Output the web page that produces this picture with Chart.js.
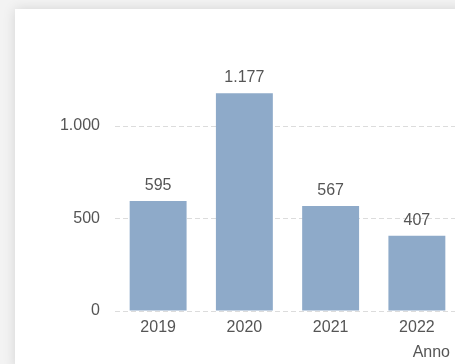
<!DOCTYPE html>
<html>
<head>
<meta charset="utf-8">
<script src="https://cdn.jsdelivr.net/npm/chart.js@4"></script>
<style>
  html, body { margin: 0; padding: 0; overflow: hidden; background: #f3f3f3; width: 455px; height: 364px; }
  #card { position: absolute; left: 15px; top: 9px; width: 450px; height: 360px; background: #fff;
          box-shadow: 0 0 12px rgba(0,0,0,0.13); }
</style>
</head>
<body>
<div id="card"><canvas id="chart" width="450" height="360"></canvas></div>
<script>
const years = ['2019', '2020', '2021', '2022'];
const counts = [595, 1177, 567, 407];
const yTicks = [0, 500, 1000];
const xTitle = 'Anno';

Chart.defaults.font.family = '"Liberation Sans", Arial, sans-serif';
Chart.defaults.font.size = 16;
Chart.defaults.color = '#555555';

const fmt = v => String(v).replace(/\B(?=(\d{3})+(?!\d))/g, '.');

// value labels above bars + axis title at the right
const barLabels = {
  id: 'barLabels',
  afterDatasetsDraw(chart) {
    const ctx = chart.ctx;
    ctx.save();
    ctx.font = '16px "Liberation Sans", Arial, sans-serif';
    ctx.fillStyle = '#555555';
    ctx.textAlign = 'center';
    ctx.textBaseline = 'alphabetic';
    chart.getDatasetMeta(0).data.forEach((bar, i) => {
      ctx.fillText(fmt(counts[i]), bar.x, bar.y - 11);
    });
    ctx.textAlign = 'right';
    ctx.fillText(xTitle, chart.scales.x.right - 10, chart.scales.x.bottom - 12);
    ctx.restore();
  }
};

new Chart(document.getElementById('chart'), {
  type: 'bar',
  data: {
    labels: years,
    datasets: [{
      data: counts,
      backgroundColor: '#8eaac9',
      categoryPercentage: 1,
      barPercentage: 0.66
    }]
  },
  options: {
    responsive: false,
    animation: false,
    layout: { padding: { top: 80, right: 5, left: 0, bottom: 0 } },
    plugins: { legend: { display: false }, tooltip: { enabled: false } },
    scales: {
      x: {
        grid: { display: false },
        border: { display: false },
        ticks: { padding: -1, maxRotation: 0 },
        afterFit: s => { s.height = 58; }
      },
      y: {
        min: 0,
        max: 1200,
        afterBuildTicks: s => { s.ticks = yTicks.map(v => ({ value: v })); },
        ticks: { padding: 15, callback: v => fmt(v) },
        grid: { color: '#dcdcdc', drawTicks: false },
        border: { display: false, dash: [5, 3] },
        afterFit: s => { s.width = 100; }
      }
    }
  },
  plugins: [barLabels]
});
</script>
</body>
</html>
